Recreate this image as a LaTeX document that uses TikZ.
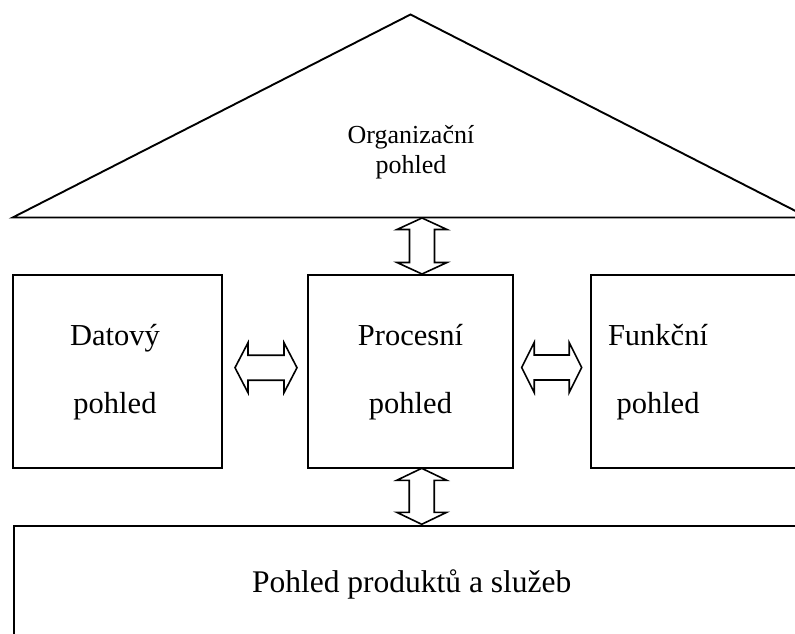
\documentclass[tikz,border=0pt]{standalone}
\usepackage{fontspec}
\setmainfont{Liberation Serif}
\begin{document}
\begin{tikzpicture}[
    x=1pt, y=-1pt,
    outline/.style={draw=black, line width=1.9pt, line join=miter},
    box/.style={outline, rectangle, inner sep=0pt, fill=white},
    arrowline/.style={draw=black, line width=1.6pt, line join=miter, fill=white},
    biglbl/.style={font=\fontsize{30.5}{36}\selectfont, anchor=base, inner sep=0pt},
    smalllbl/.style={font=\fontsize{26}{30}\selectfont, anchor=base, inner sep=0pt},
    pics/dblarrow/.style args={#1/#2}{code={
      % horizontal double arrow centred on the origin: total length #1, head length #2
      \draw[arrowline] (-#1/2,0) -- (-#1/2+#2,-25) -- (-#1/2+#2,-12.5)
        -- (#1/2-#2,-12.5) -- (#1/2-#2,-25) -- (#1/2,0) -- (#1/2-#2,25)
        -- (#1/2-#2,12.5) -- (-#1/2+#2,12.5) -- (-#1/2+#2,25) -- cycle;
    }}
  ]
  \clip (0,0) rectangle (795,634);
  \fill[white] (0,0) rectangle (795,634);

  % organisational roof
  \coordinate (roofL) at (12.7,217.5);
  \coordinate (apex) at (410.5,14.5);
  \coordinate (roofR) at (808.3,217.5);
  \draw[outline] (roofL) -- (apex) -- (roofR) -- cycle;
  \node[smalllbl] (org1) at (411,143) {Organizační};
  \node[smalllbl] (org2) at (411,173) {pohled};

  % the three views
  \node[box, minimum width=209pt, minimum height=193pt] (dat) at (117.2,371.5) {};
  \node[box, minimum width=205pt, minimum height=193pt] (proc) at (410.9,371.5) {};
  \node[box, minimum width=240pt, minimum height=193pt] (fun) at (711,371.5) {};

  \node[biglbl] (dat1) at (115,345) {Datový};
  \node[biglbl] (dat2) at (115,413) {pohled};
  \node[biglbl] (proc1) at (410.5,345) {Procesní};
  \node[biglbl] (proc2) at (410.5,413) {pohled};
  \node[biglbl] (fun1) at (658,345) {Funkční};
  \node[biglbl] (fun2) at (658,413) {pohled};

  % product and service base
  \node[box, minimum width=800pt, minimum height=160pt, anchor=north west] (prod) at (12.7,525) {};
  \node[biglbl, font=\fontsize{31.5}{36}\selectfont] (prod1) at (411.7,592.5) {Pohled produktů a služeb};

  % links between the views
  \pic[rotate=90] at (422,246) {dblarrow={56/11.5}};
  \pic[rotate=90] at (421.7,496.3) {dblarrow={56/12}};
  \pic at (266,367.7) {dblarrow={62/13}};
  \pic at (551.7,367.5) {dblarrow={60/12.5}};
\end{tikzpicture}
\end{document}
